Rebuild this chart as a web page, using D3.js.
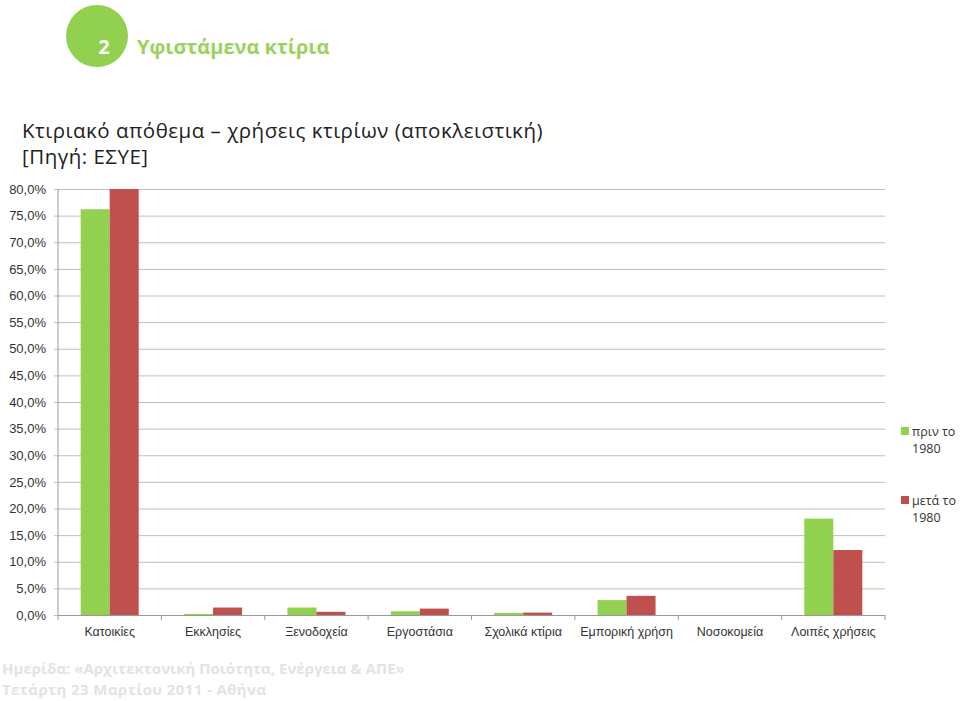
<!DOCTYPE html>
<html>
<head>
<meta charset="utf-8">
<script src="https://cdn.jsdelivr.net/npm/d3@7"></script>
<style>
  body { margin: 0; background: #fff; }
  svg { display: block; font-family: "Open Sans", "Noto Sans", sans-serif; }
</style>
</head>
<body>
<div id="chart"></div>
<script>
const categories = ["Κατοικίες", "Εκκλησίες", "Ξενοδοχεία", "Εργοστάσια", "Σχολικά κτίρια", "Εμπορική χρήση", "Νοσοκομεία", "Λοιπές χρήσεις"];
const before1980 = [76.2, 0.2, 1.4, 0.7, 0.4, 2.8, 0.0, 18.1];
const after1980 = [80.0, 1.4, 0.6, 1.2, 0.45, 3.6, 0.0, 12.2];
const seriesNames = ["πριν το 1980", "μετά το 1980"];
const yTicks = d3.range(0, 80.1, 5);

const colors = ["#92D050", "#C0504D"];

const W = 960, H = 701;
const svg = d3.select("#chart").append("svg")
  .attr("width", W).attr("height", H);

// header
svg.append("circle").attr("cx", 97).attr("cy", 36).attr("r", 31).attr("fill", "#92D050");
svg.append("text").attr("x", 104).attr("y", 54).attr("text-anchor", "middle")
  .attr("fill", "#fff").attr("font-weight", "bold").style("font-size", "20px").text("2");
svg.append("text").attr("x", 137).attr("y", 54)
  .attr("fill", "#9BD25E").attr("font-weight", "bold").style("font-size", "20px").text("Υφιστάμενα κτίρια");

svg.append("text").attr("x", 22).attr("y", 138).attr("fill", "#222").style("font-size", "20.5px")
  .style("letter-spacing", "0.5px")
  .text("Κτιριακό απόθεμα – χρήσεις κτιρίων (αποκλειστική)");
svg.append("text").attr("x", 22).attr("y", 164).attr("fill", "#222").style("font-size", "20.5px")
  .style("letter-spacing", "0.5px")
  .text("[Πηγή: ΕΣΥΕ]");

// plot area
const pLeft = 58, pRight = 885, pTop = 189, pBottom = 615;
const x = d3.scaleBand().domain(categories).range([pLeft, pRight]).paddingInner(0).paddingOuter(0);
const y = d3.scaleLinear().domain([0, 80]).range([pBottom, pTop]);
const barW = 29;

const yAxis = d3.axisLeft(y).tickValues(yTicks).tickSize(-(pRight - pLeft))
  .tickFormat(d => d3.format(".1f")(d).replace(".", ",") + "%");
const gy = svg.append("g").attr("transform", `translate(${pLeft},0)`).call(yAxis);
gy.select(".domain").remove();
gy.selectAll(".tick line").attr("stroke", "#BFBFBF").attr("x1", -4);
gy.selectAll(".tick text").attr("x", -12).attr("fill", "#333").style("font-size", "13px");

svg.append("line").attr("x1", pLeft).attr("x2", pLeft).attr("y1", pTop).attr("y2", pBottom + 5)
  .attr("stroke", "#999");

const xAxis = d3.axisBottom(x).tickSize(0);
const gx = svg.append("g").attr("transform", `translate(0,${pBottom})`).call(xAxis);
gx.select(".domain").attr("stroke", "#999");
gx.selectAll(".tick text").attr("y", 12).attr("fill", "#333").style("font-size", "12.5px");
gx.selectAll(".bound").data(categories).enter().append("line")
  .attr("x1", d => x(d) + x.bandwidth()).attr("x2", d => x(d) + x.bandwidth())
  .attr("y1", 0).attr("y2", 5).attr("stroke", "#999");

const series = [before1980, after1980];
series.forEach((vals, s) => {
  svg.append("g").selectAll("rect").data(vals).enter().append("rect")
    .attr("x", (d, i) => x(categories[i]) + x.bandwidth() / 2 - barW + s * barW)
    .attr("y", d => y(d))
    .attr("width", barW)
    .attr("height", d => pBottom - y(d))
    .attr("fill", colors[s]);
});

// legend
const legend = svg.selectAll(".legend").data(seriesNames).enter().append("g")
  .attr("transform", (d, i) => `translate(901,${427 + i * 69})`);
legend.append("rect").attr("width", 8).attr("height", 8).attr("fill", (d, i) => colors[i]);
legend.append("text").attr("x", 11).attr("y", 9).attr("fill", "#333").style("font-size", "12.5px")
  .text(d => d.split(" ").slice(0, 2).join(" "));
legend.append("text").attr("x", 11).attr("y", 26).attr("fill", "#333").style("font-size", "12.5px")
  .text(d => d.split(" ")[2]);

// footer
svg.append("text").attr("x", 2).attr("y", 674).attr("fill", "#E3E3E3").attr("font-weight", "bold")
  .style("font-size", "15px").text("Ημερίδα: «Αρχιτεκτονική Ποιότητα, Ενέργεια & ΑΠΕ»");
svg.append("text").attr("x", 2).attr("y", 695).attr("fill", "#E3E3E3").attr("font-weight", "bold")
  .style("font-size", "15px").style("letter-spacing", "0.4px").text("Τετάρτη 23 Μαρτίου 2011 - Αθήνα");
</script>
</body>
</html>
